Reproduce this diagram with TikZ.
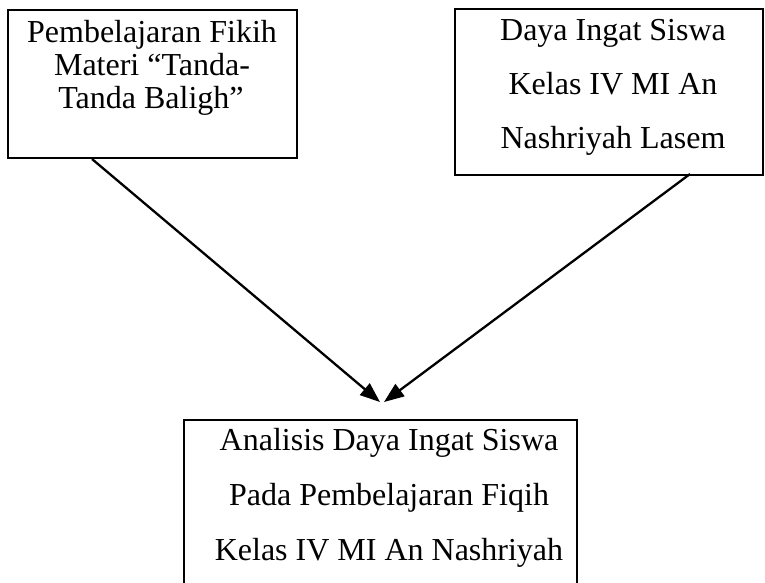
\documentclass[tikz,border=0pt]{standalone}
\usepackage{fontspec}
\setmainfont{Liberation Serif}
\usetikzlibrary{arrows.meta}
\begin{document}
\begin{tikzpicture}[x=1pt,y=-1pt,
  box/.style={draw, line width=2.8pt, rectangle, inner sep=0pt},
  txt/.style={font=\fontsize{32}{33}\selectfont, inner sep=0pt, anchor=base},
  arr/.style={line width=2.3pt, -{Triangle[length=20pt,width=15pt]}}]
\clip (0,0) rectangle (765,582);
\useasboundingbox (0,0) rectangle (765,582);
% boxes
\node[box, minimum width=289pt, minimum height=148pt] (lbox) at (152.5,84) {};
\node[box, minimum width=308pt, minimum height=166pt] (rbox) at (609,92) {};
\node[box, minimum width=393pt, minimum height=200pt] (bbox) at (380.5,520) {};
% texts
\node[txt] (l1) at (152,42) {Pembelajaran Fikih};
\node[txt] (l2) at (152,75) {Materi “Tanda-};
\node[txt] (l3) at (151,108) {Tanda Baligh”};
\node[txt] (r1) at (613,40) {Daya Ingat Siswa};
\node[txt] (r2) at (613,94) {Kelas IV MI An};
\node[txt] (r3) at (613,148) {Nashriyah Lasem};
\node[txt] (b1) at (389,450) {Analisis Daya Ingat Siswa};
\node[txt] (b2) at (389,505) {Pada Pembelajaran Fiqih};
\node[txt] (b3) at (389,560) {Kelas IV MI An Nashriyah};
% connectors
\coordinate (s1) at (92,159);
\coordinate (t1) at (380,402);
\coordinate (s2) at (690,174);
\coordinate (t2) at (384,402);
\draw[arr] (s1) -- (t1);
\draw[arr] (s2) -- (t2);
\end{tikzpicture}
\end{document}
